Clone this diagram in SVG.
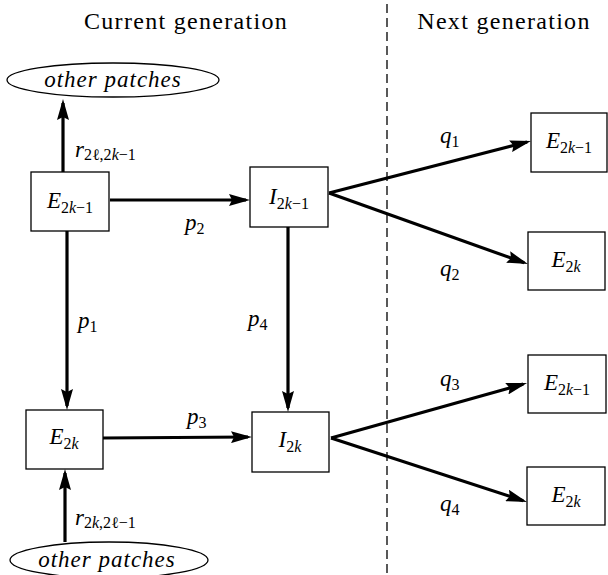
<svg xmlns="http://www.w3.org/2000/svg" width="608" height="575" viewBox="0 0 608 575">
<defs>
  <marker id="ah" viewBox="0 0 21 12" refX="17" refY="6" markerWidth="21" markerHeight="12" markerUnits="userSpaceOnUse" orient="auto">
    <path d="M0,0 L21,6 L0,12 L3,6 z" fill="#000"/>
  </marker>
</defs>

<text x="186" y="29" font-family="Liberation Serif" font-size="24" text-anchor="middle" letter-spacing="1.3">Current generation</text>
<text x="504" y="29" font-family="Liberation Serif" font-size="24" text-anchor="middle" letter-spacing="1.3">Next generation</text>

<line x1="387" y1="4" x2="387" y2="575" stroke="#000" stroke-width="1.3" stroke-dasharray="9,5"/>

<g id="connectors" fill="none" stroke="#000" stroke-width="3.2" marker-end="url(#ah)">
  <line x1="63" y1="172" x2="63" y2="103"/>
  <line x1="110" y1="200" x2="246" y2="200"/>
  <line x1="67" y1="231" x2="67" y2="406"/>
  <line x1="288" y1="227" x2="288" y2="408"/>
  <line x1="103" y1="438" x2="248" y2="437"/>
  <line x1="65" y1="542" x2="65" y2="473"/>
  <line x1="329" y1="193" x2="527.1" y2="142"/>
  <line x1="329" y1="193" x2="524.2" y2="262.7"/>
  <line x1="331" y1="438" x2="523.2" y2="384.1"/>
  <line x1="331" y1="438" x2="523.2" y2="500.7"/>
</g>

<g id="labels" font-family="Liberation Serif" font-size="23">
  <text x="75" y="157"><tspan font-style="italic">r</tspan><tspan font-size="16" dy="3">2ℓ,2<tspan font-style="italic">k</tspan>−1</tspan></text>
  <text x="185" y="230"><tspan font-style="italic">p</tspan><tspan font-size="16" dy="4">2</tspan></text>
  <text x="78" y="328"><tspan font-style="italic">p</tspan><tspan font-size="16" dy="4">1</tspan></text>
  <text x="248" y="326"><tspan font-style="italic">p</tspan><tspan font-size="16" dy="4">4</tspan></text>
  <text x="187" y="424"><tspan font-style="italic">p</tspan><tspan font-size="16" dy="4">3</tspan></text>
  <text x="75" y="525"><tspan font-style="italic">r</tspan><tspan font-size="16" dy="3">2<tspan font-style="italic">k</tspan>,2ℓ−1</tspan></text>
  <text x="440" y="143"><tspan font-style="italic">q</tspan><tspan font-size="16" dy="4">1</tspan></text>
  <text x="440" y="276"><tspan font-style="italic">q</tspan><tspan font-size="16" dy="4">2</tspan></text>
  <text x="440" y="386"><tspan font-style="italic">q</tspan><tspan font-size="16" dy="4">3</tspan></text>
  <text x="440" y="511"><tspan font-style="italic">q</tspan><tspan font-size="16" dy="4">4</tspan></text>
</g>

<g id="other-top">
  <ellipse cx="113" cy="80" rx="106" ry="17" fill="#fff" stroke="#000" stroke-width="1.3"/>
  <text font-family="Liberation Serif" font-style="italic" x="113" y="87" font-size="23" text-anchor="middle" letter-spacing="1">other patches</text>
</g>
<g id="other-bottom">
  <ellipse cx="109" cy="560" rx="99" ry="18" fill="#fff" stroke="#000" stroke-width="1.3"/>
  <text font-family="Liberation Serif" font-style="italic" x="107" y="567" font-size="23" text-anchor="middle" letter-spacing="1">other patches</text>
</g>

<g id="nodes" font-family="Liberation Serif" font-size="23" text-anchor="middle">
<g id="E2k-1-cur">
  <rect x="31" y="172" width="78" height="59" fill="#fff" stroke="#000" stroke-width="1.3"/>
  <text x="70" y="208"><tspan font-style="italic">E</tspan><tspan font-size="16" dy="5">2<tspan font-style="italic">k</tspan>−1</tspan></text>
</g>
<g id="I2k-1">
  <rect x="250" y="167" width="78" height="60" fill="#fff" stroke="#000" stroke-width="1.3"/>
  <text x="289" y="204"><tspan font-style="italic">I</tspan><tspan font-size="16" dy="5">2<tspan font-style="italic">k</tspan>−1</tspan></text>
</g>
<g id="E2k-cur">
  <rect x="26" y="410" width="77" height="59" fill="#fff" stroke="#000" stroke-width="1.3"/>
  <text x="64" y="444"><tspan font-style="italic">E</tspan><tspan font-size="16" dy="5">2<tspan font-style="italic">k</tspan></tspan></text>
</g>
<g id="I2k">
  <rect x="252" y="412" width="77" height="60" fill="#fff" stroke="#000" stroke-width="1.3"/>
  <text x="290" y="447"><tspan font-style="italic">I</tspan><tspan font-size="16" dy="5">2<tspan font-style="italic">k</tspan></tspan></text>
</g>
<g id="E2k-1-next-a">
  <rect x="531" y="113" width="76" height="59" fill="#fff" stroke="#000" stroke-width="1.3"/>
  <text x="569" y="148"><tspan font-style="italic">E</tspan><tspan font-size="16" dy="5">2<tspan font-style="italic">k</tspan>−1</tspan></text>
</g>
<g id="E2k-next-a">
  <rect x="528" y="232" width="77" height="58" fill="#fff" stroke="#000" stroke-width="1.3"/>
  <text x="566" y="267"><tspan font-style="italic">E</tspan><tspan font-size="16" dy="5">2<tspan font-style="italic">k</tspan></tspan></text>
</g>
<g id="E2k-1-next-b">
  <rect x="528" y="355" width="78" height="58" fill="#fff" stroke="#000" stroke-width="1.3"/>
  <text x="567" y="390"><tspan font-style="italic">E</tspan><tspan font-size="16" dy="5">2<tspan font-style="italic">k</tspan>−1</tspan></text>
</g>
<g id="E2k-next-b">
  <rect x="527" y="467" width="78" height="58" fill="#fff" stroke="#000" stroke-width="1.3"/>
  <text x="566" y="502"><tspan font-style="italic">E</tspan><tspan font-size="16" dy="5">2<tspan font-style="italic">k</tspan></tspan></text>
</g>
</g>
</svg>
